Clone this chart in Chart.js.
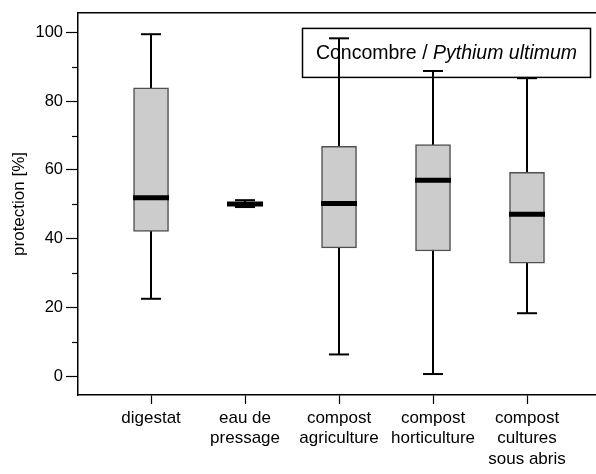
<!DOCTYPE html>
<html>
<head>
<meta charset="utf-8">
<script src="https://cdn.jsdelivr.net/npm/chart.js@4.4.1/dist/chart.umd.min.js"></script>
<style>
html, body { margin: 0; padding: 0; background: #fff; }
</style>
</head>
<body>
<canvas id="c" width="596" height="474"></canvas>
<script>
// box plot values
const categories = [['digestat'], ['eau de', 'pressage'], ['compost', 'agriculture'], ['compost', 'horticulture'], ['compost', 'cultures', 'sous abris']];
const whiskerLow = [22.5, 49.2, 6.3, 0.6, 18.3];
const boxLow = [42.1, 49.6, 37.3, 36.4, 32.9];
const medians = [51.9, 50.1, 50.2, 57.0, 47.1];
const boxHigh = [83.9, 50.6, 66.9, 67.4, 59.3];
const whiskerHigh = [99.5, 51.2, 98.3, 88.8, 86.7];
const yTicks = [0, 20, 40, 60, 80, 100];
const yMinorTicks = [10, 30, 50, 70, 90];
const titlePlain = 'Concombre / ';
const titleItalic = 'Pythium ultimum';

const FONT = '"Liberation Sans", Arial, sans-serif';
Chart.defaults.font.family = FONT;
Chart.defaults.color = '#000';

const boxPlot = {
  id: 'boxPlot',
  beforeDatasetsDraw(chart) {
    const ctx = chart.ctx, x = chart.scales.x, y = chart.scales.y;
    ctx.save();
    ctx.strokeStyle = '#000';
    ctx.lineWidth = 2;
    categories.forEach((c, i) => {
      const px = Math.round(x.getPixelForValue(i));
      ctx.beginPath();
      ctx.moveTo(px, y.getPixelForValue(whiskerLow[i]));
      ctx.lineTo(px, y.getPixelForValue(whiskerHigh[i]));
      ctx.stroke();
      [whiskerLow[i], whiskerHigh[i]].forEach(v => {
        const py = y.getPixelForValue(v);
        ctx.beginPath();
        ctx.moveTo(px - 10, py);
        ctx.lineTo(px + 10, py);
        ctx.stroke();
      });
    });
    ctx.restore();
  },
  afterDatasetsDraw(chart) {
    const ctx = chart.ctx, x = chart.scales.x, y = chart.scales.y;
    ctx.save();
    ctx.strokeStyle = '#000';
    ctx.lineWidth = 5;
    medians.forEach((m, i) => {
      const px = x.getPixelForValue(i);
      const py = y.getPixelForValue(m);
      ctx.beginPath();
      ctx.moveTo(px - 18, py);
      ctx.lineTo(px + 18, py);
      ctx.stroke();
    });
    ctx.restore();
  },
  afterDraw(chart) {
    const ctx = chart.ctx, y = chart.scales.y, area = chart.chartArea;
    ctx.save();
    // minor ticks
    ctx.strokeStyle = '#000';
    ctx.lineWidth = 1.2;
    yMinorTicks.forEach(v => {
      const py = Math.round(y.getPixelForValue(v)) + 0.5;
      ctx.beginPath();
      ctx.moveTo(area.left - 6, py);
      ctx.lineTo(area.left, py);
      ctx.stroke();
    });
    // title box
    const bx = area.right - 293.5, by = area.top + 15.5, bw = 288, bh = 49;
    ctx.lineWidth = 1.5;
    ctx.strokeRect(bx, by, bw, bh);
    const fs = 19.5;
    ctx.font = fs + 'px ' + FONT;
    const w1 = ctx.measureText(titlePlain).width;
    ctx.font = 'italic ' + fs + 'px ' + FONT;
    const w2 = ctx.measureText(titleItalic).width;
    let tx = bx + bw / 2 - (w1 + w2) / 2;
    const ty = by + bh / 2 + 1;
    ctx.fillStyle = '#000';
    ctx.textBaseline = 'middle';
    ctx.font = fs + 'px ' + FONT;
    ctx.fillText(titlePlain, tx, ty);
    ctx.font = 'italic ' + fs + 'px ' + FONT;
    ctx.fillText(titleItalic, tx + w1, ty);
    ctx.restore();
  }
};

const xMin = -0.777, xMax = 4.734;

new Chart(document.getElementById('c'), {
  type: 'bar',
  data: {
    datasets: [{
      data: categories.map((c, i) => ({ x: i, y: [boxLow[i], boxHigh[i]] })),
      backgroundColor: '#cccccc',
      borderColor: '#505050',
      borderWidth: 1.5,
      borderSkipped: false,
      barThickness: 35
    }]
  },
  options: {
    responsive: false,
    animation: false,
    devicePixelRatio: 1,
    layout: { padding: { top: 4, left: 0, right: 0, bottom: 0 } },
    plugins: { legend: { display: false }, tooltip: { enabled: false } },
    scales: {
      x: {
        type: 'linear',
        position: 'bottom',
        offset: false,
        min: xMin,
        max: xMax,
        afterBuildTicks(s) { s.ticks = categories.map((c, i) => ({ value: i })); },
        afterFit(s) { s.height = 79; s.paddingRight = 0; },
        grid: { offset: false, drawOnChartArea: false, tickLength: 9, tickColor: '#000', tickWidth: 1.2 },
        border: { color: '#000', width: 1.5 },
        ticks: {
          callback: v => categories[v] || '',
          font: { size: 17 },
          color: '#000',
          padding: 4,
          autoSkip: false,
          maxRotation: 0
        }
      },
      xTop: {
        type: 'linear',
        position: 'top',
        offset: false,
        min: xMin,
        max: xMax,
        afterFit(s) { s.height = 0; s.paddingRight = 0; s.paddingLeft = 0; },
        grid: { display: false, offset: false },
        ticks: { display: false },
        border: { color: '#000', width: 1.5 }
      },
      y: {
        min: -5.5,
        max: 105.7,
        afterBuildTicks(s) { s.ticks = yTicks.map(v => ({ value: v })); },
        afterFit(s) { s.width = 78; },
        grid: { drawOnChartArea: false, tickLength: 12, tickColor: '#000', tickWidth: 1.2 },
        border: { color: '#000', width: 1.5 },
        ticks: { font: { size: 16.5 }, color: '#000', padding: 3 },
        title: { display: true, text: 'protection [%]', font: { size: 17 }, color: '#000', padding: { top: 9, bottom: 0 } }
      }
    }
  },
  plugins: [boxPlot]
});
</script>
</body>
</html>
